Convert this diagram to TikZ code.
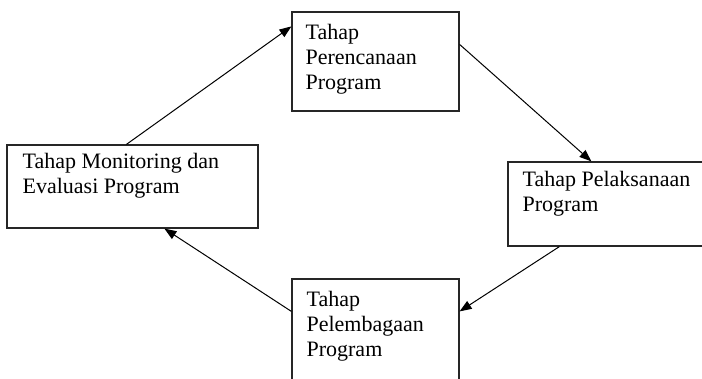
\documentclass[tikz,border=0pt]{standalone}
\usepackage{fontspec}
\setmainfont{Liberation Serif}
\usetikzlibrary{arrows.meta,calc}
\begin{document}
\begin{tikzpicture}[x=1pt,y=-1pt,
  stagebox/.style={draw=black!85,line width=1.2pt,rectangle,inner sep=0pt},
  stagetext/.style={anchor=north west,inner sep=0pt,align=left,font=\fontsize{22}{25}\selectfont},
  flow/.style={line width=1pt,-{Triangle[length=12pt,width=9pt]}}]
\useasboundingbox (0,0) rectangle (702,378);
\clip (0,0) rectangle (702,378);
% boxes
\node[stagebox,minimum width=167pt,minimum height=99pt] (top) at (375.5,61.5) {};
\node[stagebox,minimum width=251pt,minimum height=83pt] (left) at (132.5,186.5) {};
\node[stagebox,minimum width=200pt,minimum height=84pt] (right) at (608,204) {};
\node[stagebox,minimum width=167pt,minimum height=110pt] (bottom) at (375.5,334) {};
% texts
\node[stagetext] (ttop) at ($(top.north west)+(14,13)$) {Tahap\\Perencanaan\\Program};
\node[stagetext] (tleft) at ($(left.north west)+(16,9)$) {Tahap Monitoring dan\\Evaluasi Program};
\node[stagetext] (tright) at ($(right.north west)+(15,10)$) {Tahap Pelaksanaan\\Program};
\node[stagetext] (tbottom) at ($(bottom.north west)+(15,13)$) {Tahap\\Pelembagaan\\Program};
% connectors
\draw[flow] ($(left.north west)+(120,0)$) -- ($(top.north west)+(0,15)$);
\draw[flow] ($(top.north east)+(0,33)$) -- ($(right.north west)+(84,0)$);
\draw[flow] ($(right.south west)+(52,0)$) -- ($(bottom.north east)+(0,33)$);
\draw[flow] ($(bottom.north west)+(0,33)$) -- ($(left.south west)+(158,0)$);
\end{tikzpicture}
\end{document}
